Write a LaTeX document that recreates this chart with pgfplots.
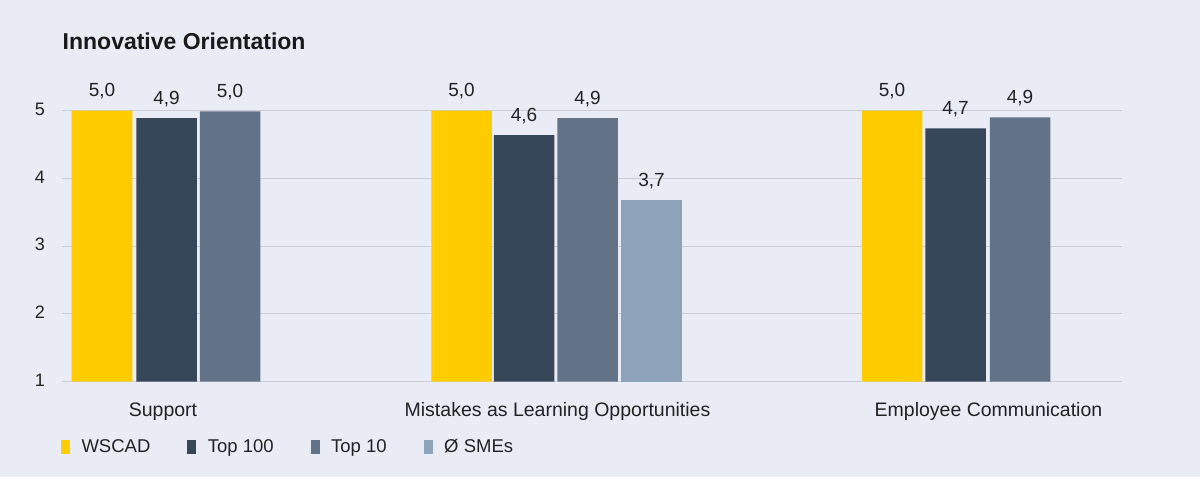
\documentclass[border=0pt]{standalone}
\usepackage{fontspec}
\setmainfont{Liberation Sans}
\usepackage{pgfplots}
\pgfplotsset{compat=1.18}
\definecolor{bg}{HTML}{E9ECF4}
\definecolor{gridc}{HTML}{C9CDD6}
\definecolor{txt}{HTML}{222222}
\definecolor{cW}{HTML}{FFCC00}
\definecolor{cA}{HTML}{364759}
\definecolor{cB}{HTML}{627388}
\definecolor{cC}{HTML}{8EA3BA}
\begin{document}
\begin{tikzpicture}[x=1pt,y=1pt]
\fill[bg] (0,0) rectangle (1200,477);
\useasboundingbox (0,0) rectangle (1200,477);
\node[anchor=base west, inner sep=0pt, text=black!90, font=\fontsize{23}{27}\selectfont\bfseries] at (62.5,427.7) {Innovative Orientation};
\begin{axis}[
  at={(62pt,95.3pt)}, anchor=south west,
  scale only axis, width=1060pt, height=304.9pt,
  xmin=62, xmax=1122, ymin=1, ymax=5.5,
  axis line style={draw=none},
  major tick length=0pt,
  ytick={1,2,3,4,5},
  ymajorgrids, grid style={gridc, line width=1pt},
  xtick={163,557.5,988.5},
  xticklabels={Support, Mistakes as Learning Opportunities, Employee Communication},
  xticklabel style={anchor=base, yshift=-34.3pt, inner sep=0pt, text=txt, font=\fontsize{19.5}{23}\selectfont},
  yticklabel style={anchor=center, xshift=-22pt, yshift=1.5pt, inner sep=0pt, text=txt, font=\fontsize{18}{22}\selectfont},
  /pgf/number format/assume math mode=true,
  ybar, bar width=60.5, bar shift=0pt,
  clip mode=individual,
  nodes near coords={\pgfmathprintnumber[fixed, fixed zerofill, precision=1, use comma]{\pgfplotspointmeta}},
  every node near coord/.append style={anchor=base, yshift=14pt, inner sep=0pt, text=txt, font=\fontsize{19}{22}\selectfont},
  legend columns=4,
  legend image code/.code={\fill[#1] (0pt,-7pt) rectangle (9pt,7pt);},
  legend style={at={(axis description cs:0,0)}, anchor=west, xshift=-1pt, yshift=-65.3pt,
    draw=none, fill=none, inner sep=0pt, outer sep=0pt,
    font=\fontsize{18.5}{22}\selectfont, text=txt,
    nodes={inner sep=0pt},
    /tikz/every odd column/.append style={column sep=11.5pt},
    /tikz/every even column/.append style={column sep=37pt}},
  legend cell align=left,
]
\addplot[fill=cW, draw=none] coordinates {(102,5.0) (461.5,5.0) (892,5.0)};
\addlegendentry{WSCAD}
\addplot[fill=cA, draw=none] coordinates {(166.5,4.89) (524,4.64) (955.5,4.74)};
\addlegendentry{Top 100}
\addplot[fill=cB, draw=none] coordinates {(230,4.99) (587.5,4.89) (1020,4.90)};
\addlegendentry{Top 10}
\addplot[fill=cC, draw=none] coordinates {(651.5,3.68)};
\addlegendentry{Ø SMEs}
\end{axis}
\end{tikzpicture}
\end{document}
